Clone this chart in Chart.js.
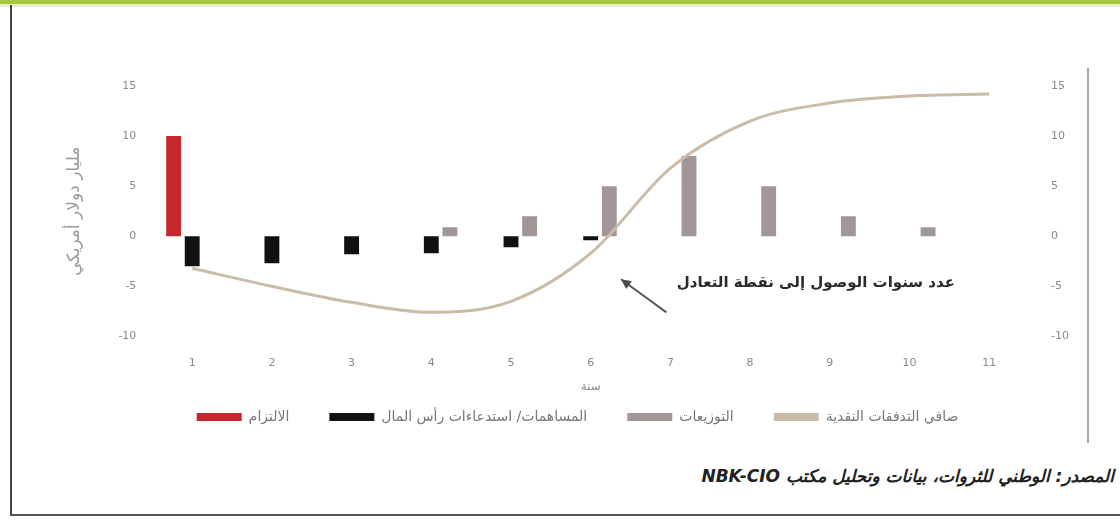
<!DOCTYPE html>
<html lang="ar">
<head>
<meta charset="utf-8">
<title>التدفقات النقدية</title>
<script src="https://cdn.jsdelivr.net/npm/chart.js@4"></script>
<style>
  html, body { margin: 0; padding: 0; background: #fff; }
  body { width: 1120px; height: 522px; position: relative; overflow: hidden; font-family: "DejaVu Sans", "Noto Sans", sans-serif; }
  #topbar { position: absolute; left: 0; top: 0; width: 1120px; height: 4px; background: #a8c93f; }
  #topfade { position: absolute; left: 0; top: 4px; width: 1120px; height: 3px; background: #e4efc4; }
  #leftrule { position: absolute; left: 10px; top: 5px; width: 2px; height: 511px; background: #444; }
  #bottomrule { position: absolute; left: 10px; top: 514px; width: 1110px; height: 2px; background: #555; }
  #siderule { position: absolute; left: 1087px; top: 68px; width: 2px; height: 375px; background: #a9a9a9; }
  #wrap { position: absolute; left: 0; top: 0; width: 1120px; height: 440px; }
  #source { position: absolute; right: 6px; top: 466px; direction: rtl; font-size: 17px; font-weight: bold; font-style: italic; color: #222; white-space: nowrap; }
</style>
</head>
<body>
<div id="topbar"></div>
<div id="topfade"></div>
<div id="leftrule"></div>
<div id="bottomrule"></div>
<div id="siderule"></div>
<div id="wrap"><canvas id="c" width="1120" height="440"></canvas></div>
<div id="source">المصدر: الوطني للثروات، بيانات وتحليل مكتب NBK-CIO</div>
<script>
// Years since fund launch
const years = ['1', '2', '3', '4', '5', '6', '7', '8', '9', '10', '11'];

// Commitment (billion USD)
const commitment = [10, null, null, null, null, null, null, null, null, null, null];

// Capital calls / contributions (billion USD)
const capitalCalls = [-3.0, -2.7, -1.8, -1.7, -1.1, -0.4, null, null, null, null, null];

// Distributions (billion USD)
const distributions = [null, null, null, 0.9, 2.0, 5.0, 8.0, 5.0, 2.0, 0.9, null];

// Cumulative net cash flow (billion USD)
const netCashFlow = [-3.2, -5.0, -6.6, -7.6, -6.5, -1.7, 6.8, 11.5, 13.3, 14.0, 14.2];

// Shared value axis ticks
const axisMin = -10;
const axisMax = 15;
const axisStep = 5;

const labelCommitment = 'الالتزام';
const labelCalls = 'المساهمات/ استدعاءات رأس المال';
const labelDistributions = 'التوزيعات';
const labelNet = 'صافي التدفقات النقدية';
const axisTitleY = 'مليار دولار أمريكي';
const axisTitleX = 'سنة';
const breakEvenNote = 'عدد سنوات الوصول إلى نقطة التعادل';

const tickColor = '#8a8a8a';
const tickFont = { family: '"DejaVu Sans", sans-serif', size: 11 };

// Break-even annotation: note text with an arrow pointing at the curve
const breakEvenPlugin = {
  id: 'breakEven',
  afterDatasetsDraw(chart) {
    const { ctx, scales } = chart;
    const x = scales.x, y = scales.y;
    const tipX = x.getPixelForValue(5.38), tipY = y.getPixelForValue(-4.3);
    const tailX = x.getPixelForValue(5.95), tailY = y.getPixelForValue(-7.6);
    ctx.save();
    ctx.strokeStyle = '#5a5a5a';
    ctx.fillStyle = '#4a4a4a';
    ctx.lineWidth = 2;
    ctx.beginPath();
    ctx.moveTo(tailX, tailY);
    ctx.lineTo(tipX, tipY);
    ctx.stroke();
    const ang = Math.atan2(tipY - tailY, tipX - tailX);
    const len = 11, spread = 0.45;
    ctx.beginPath();
    ctx.moveTo(tipX, tipY);
    ctx.lineTo(tipX - len * Math.cos(ang - spread), tipY - len * Math.sin(ang - spread));
    ctx.lineTo(tipX - len * Math.cos(ang + spread), tipY - len * Math.sin(ang + spread));
    ctx.closePath();
    ctx.fill();
    ctx.direction = 'rtl';
    ctx.textAlign = 'right';
    ctx.textBaseline = 'middle';
    ctx.fillStyle = '#2a2a2a';
    ctx.font = 'bold 15px "DejaVu Sans", sans-serif';
    ctx.fillText(breakEvenNote, x.getPixelForValue(9.57), y.getPixelForValue(-4.7));
    ctx.restore();
  }
};

new Chart(document.getElementById('c'), {
  type: 'bar',
  data: {
    labels: years,
    datasets: [
      {
        label: labelCommitment,
        data: commitment,
        backgroundColor: '#c4282c',
        yAxisID: 'y',
        order: 2
      },
      {
        label: labelCalls,
        data: capitalCalls,
        backgroundColor: '#111111',
        yAxisID: 'y',
        order: 2
      },
      {
        label: labelDistributions,
        data: distributions,
        backgroundColor: '#a29797',
        yAxisID: 'y',
        order: 2
      },
      {
        type: 'line',
        label: labelNet,
        data: netCashFlow,
        borderColor: '#cbbcaa',
        backgroundColor: '#cbbcaa',
        borderWidth: 3,
        pointRadius: 0,
        cubicInterpolationMode: 'monotone',
        yAxisID: 'y1',
        order: 1
      }
    ]
  },
  options: {
    responsive: false,
    animation: false,
    datasets: {
      bar: { categoryPercentage: 0.7, barPercentage: 0.8 }
    },
    layout: { padding: { top: 86, left: 64, right: 29, bottom: 6 } },
    plugins: {
      tooltip: { enabled: false },
      legend: {
        position: 'bottom',
        labels: {
          boxWidth: 45,
          boxHeight: 8,
          padding: 40,
          color: '#777',
          font: { family: '"DejaVu Sans", sans-serif', size: 14 },
          sort: (a, b) => a.datasetIndex - b.datasetIndex,
          generateLabels(chart) {
            const items = Chart.defaults.plugins.legend.labels.generateLabels(chart);
            items.forEach(it => { it.lineWidth = 0; it.strokeStyle = 'transparent'; });
            return items;
          }
        }
      }
    },
    scales: {
      x: {
        grid: { display: false, drawTicks: false },
        border: { display: false },
        ticks: { color: tickColor, font: tickFont, padding: 20 },
        title: { display: true, text: axisTitleX, color: tickColor, font: { family: '"DejaVu Sans", sans-serif', size: 12 }, padding: { top: -10, bottom: -24 } }
      },
      y: {
        position: 'left',
        min: axisMin,
        max: axisMax,
        grid: { display: false, drawTicks: false },
        border: { display: false },
        ticks: { stepSize: axisStep, color: tickColor, font: tickFont, padding: 16 },
        title: { display: true, text: axisTitleY, color: '#999', font: { family: '"DejaVu Sans", sans-serif', size: 17 }, padding: { top: 0, bottom: 18 } }
      },
      y1: {
        position: 'right',
        min: axisMin,
        max: axisMax,
        grid: { display: false, drawTicks: false },
        border: { display: false },
        ticks: { stepSize: axisStep, color: tickColor, font: tickFont, padding: 22 }
      }
    }
  },
  plugins: [breakEvenPlugin]
});
</script>
</body>
</html>
